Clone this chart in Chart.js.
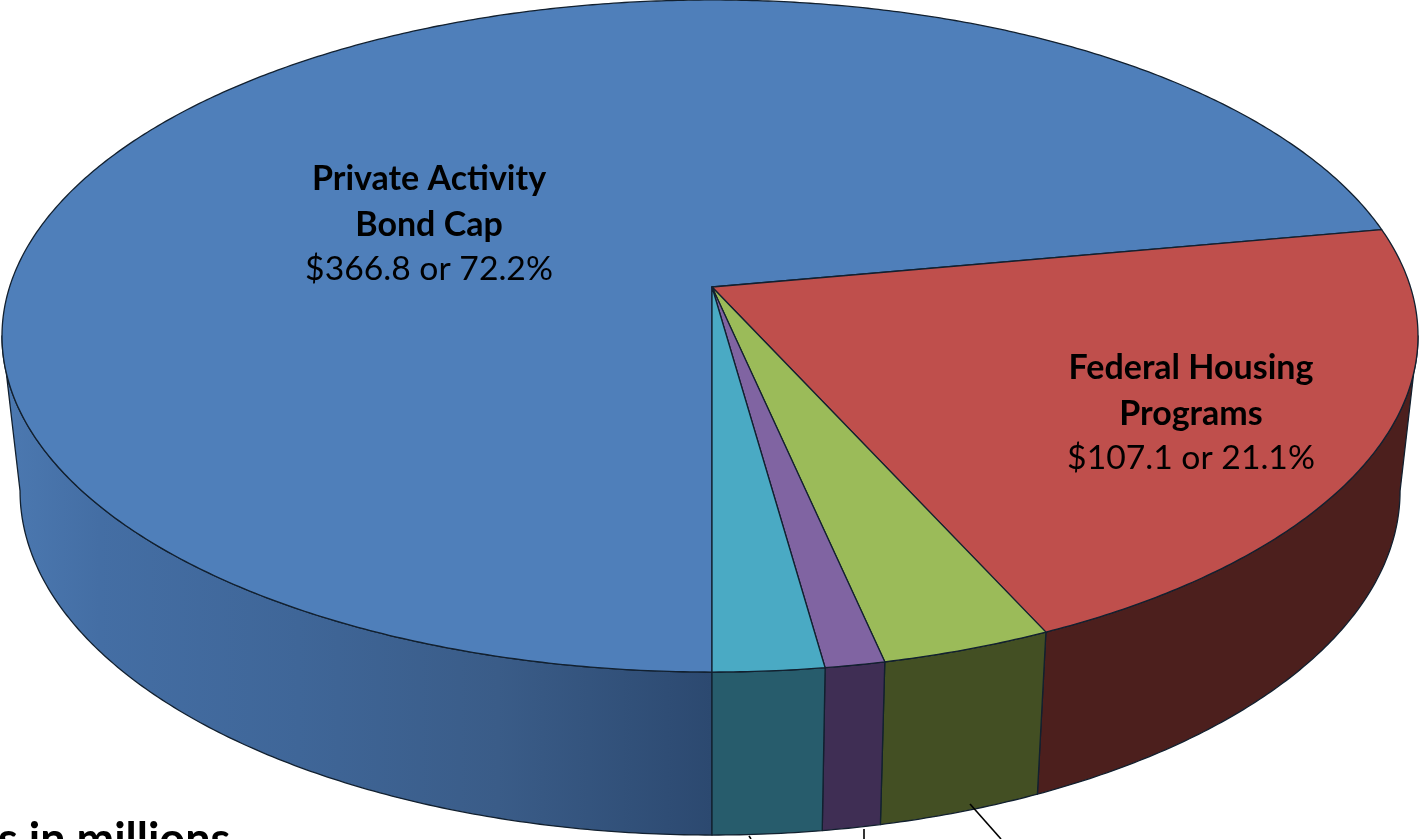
<!DOCTYPE html>
<html>
<head>
<meta charset="utf-8">
<title>Allocation of resources</title>
<script src="https://cdn.jsdelivr.net/npm/chart.js@4"></script>
<style>
  html, body { margin: 0; padding: 0; background: #fff; overflow: hidden; }
  canvas { display: block; }
</style>
</head>
<body>
<canvas id="pie" width="1419" height="839"></canvas>
<script>
// Dollars in millions, clockwise from the six o'clock seam.
const categories = ['Private Activity Bond Cap', 'Federal Housing Programs', 'Program C', 'Program D', 'Program E'];
const amounts = [366.8, 107.1, 17.3, 6.05, 11.25];
const topColors = ['#4f7fba', '#bf4f4c', '#9bbb59', '#8064a2', '#4aaac4'];
const wallColors = [null, '#4c1f1d', '#434f23', '#3f2e54', '#275c6c'];
const blueWallStops = [[0, '#4c79b1'], [0.14, '#446ea4'], [0.42, '#3f6698'], [0.7, '#3a5c88'], [1, '#2c4970']];
const sliceLabels = [
  { bold: ['Private Activity', 'Bond Cap'], plain: '$366.8 or 72.2%', x: 429, y: 190 },
  { bold: ['Federal Housing', 'Programs'], plain: '$107.1 or 21.1%', x: 1191, y: 379 }
];
const unitsNote = 's in millions';
const leaders = [[749, 836, 751, 839], [864, 829, 864, 839], [970, 804, 1001, 839]];

// Perspective of the tilted disc: the hub sits above the centre of the visible ellipse.
const hub = { x: 712, y: 287 };
const tilt = 0.1458, depthScale = 328.9;
const radiusRight = 706 * Math.sqrt(1 - tilt * tilt), radiusLeft = 710 * Math.sqrt(1 - tilt * tilt);
const rimCentreY = 336, floor = { y: 491, sx: 690 / 708, sy: 344 / 336 };

function rimPoint(theta) {
  const u = Math.cos(theta), v = Math.sin(theta), w = 1 - tilt * v;
  return { x: hub.x + (u >= 0 ? radiusRight : radiusLeft) * u / w, y: hub.y + depthScale * v / w };
}
function floorPoint(theta) {
  const p = rimPoint(theta);
  return { x: hub.x + (p.x - hub.x) * floor.sx, y: floor.y + (p.y - rimCentreY) * floor.sy };
}
function samples(a, b) {
  const n = Math.max(2, Math.ceil(Math.abs(b - a) / (Math.PI / 360)));
  const out = [];
  for (let i = 0; i <= n; i++) out.push(a + (b - a) * i / n);
  return out;
}

const EDGE = '#12202f';
const visibleLo = Math.asin(tilt), visibleHi = Math.PI - Math.asin(tilt);

function drawLabels(ctx) {
  ctx.save();
  ctx.fillStyle = '#000';
  ctx.textAlign = 'center';
  ctx.textBaseline = 'alphabetic';
  sliceLabels.forEach(label => {
    ctx.font = 'bold 34px Lato, "Open Sans", sans-serif';
    label.bold.forEach((line, i) => ctx.fillText(line, label.x, label.y + i * 45.5));
    ctx.font = '33.7px Lato, "Open Sans", sans-serif';
    ctx.fillText(label.plain, label.x, label.y + 2 * 45);
  });
  ctx.textAlign = 'left';
  ctx.font = 'bold 45px Lato, "Open Sans", sans-serif';
  ctx.fillText(unitsNote, -2, 855);
  ctx.restore();
}

const projectedPie = {
  id: 'projectedPie',
  beforeDatasetsDraw(chart) {
    const ctx = chart.ctx, arcs = chart.getDatasetMeta(0).data;
    ctx.save();
    ctx.lineJoin = 'round';

    // Outer walls: only the part of each slice that faces the viewer.
    arcs.forEach((arc, i) => {
      [0, 2 * Math.PI].forEach(turn => {
        const lo = Math.max(arc.startAngle, visibleLo + turn), hi = Math.min(arc.endAngle, visibleHi + turn);
        if (hi <= lo) return;
        const angles = samples(lo, hi);
        ctx.beginPath();
        angles.forEach((t, k) => { const p = rimPoint(t); k ? ctx.lineTo(p.x, p.y) : ctx.moveTo(p.x, p.y); });
        angles.slice().reverse().forEach(t => { const p = floorPoint(t); ctx.lineTo(p.x, p.y); });
        ctx.closePath();
        if (wallColors[i]) {
          ctx.fillStyle = wallColors[i];
        } else {
          const g = ctx.createLinearGradient(0, 0, hub.x, 0);
          blueWallStops.forEach(s => g.addColorStop(s[0], s[1]));
          ctx.fillStyle = g;
        }
        ctx.fill();
        ctx.strokeStyle = EDGE;
        ctx.lineWidth = 1.3;
        ctx.stroke();
      });
    });

    // Top faces.
    arcs.forEach((arc, i) => {
      ctx.beginPath();
      ctx.moveTo(hub.x, hub.y);
      samples(arc.startAngle, arc.endAngle).forEach(t => { const p = rimPoint(t); ctx.lineTo(p.x, p.y); });
      ctx.closePath();
      ctx.fillStyle = topColors[i];
      ctx.fill();
      ctx.strokeStyle = EDGE;
      ctx.lineWidth = 1.3;
      ctx.stroke();
    });

    // Leader lines running down towards the labels below the frame.
    ctx.strokeStyle = '#000';
    ctx.lineWidth = 1.6;
    leaders.forEach(l => {
      ctx.beginPath();
      ctx.moveTo(l[0], l[1]);
      ctx.lineTo(l[2], l[3]);
      ctx.stroke();
    });
    ctx.restore();
    drawLabels(ctx);
    return false;
  }
};

new Chart(document.getElementById('pie'), {
  type: 'pie',
  data: { labels: categories, datasets: [{ data: amounts, backgroundColor: topColors }] },
  options: {
    responsive: false,
    animation: false,
    rotation: 180,
    layout: { padding: 0 },
    plugins: { legend: { display: false }, tooltip: { enabled: false }, title: { display: false } }
  },
  plugins: [projectedPie]
});
</script>
</body>
</html>
